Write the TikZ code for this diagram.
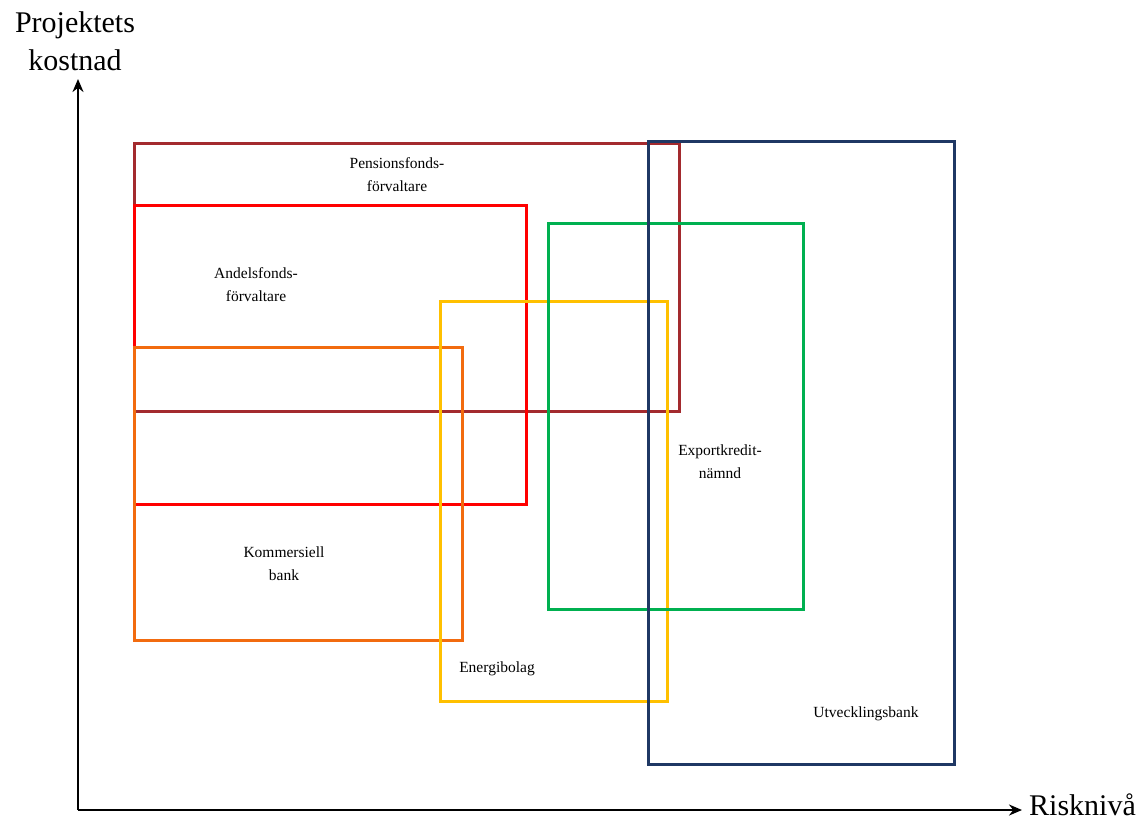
\documentclass[tikz,border=0pt]{standalone}
\usepackage{fontspec}
\setmainfont{Liberation Serif}
\usetikzlibrary{arrows.meta}
\definecolor{cPension}{HTML}{A32A2E}
\definecolor{cAndel}{HTML}{FF0000}
\definecolor{cKomm}{HTML}{F26B0F}
\definecolor{cEnergi}{HTML}{FFC000}
\definecolor{cExport}{HTML}{00B050}
\definecolor{cUtv}{HTML}{1F3864}
\begin{document}
\begin{tikzpicture}[x=1pt,y=-1pt,
  boxline/.style={line width=3pt},
  lbl/.style={font=\fontsize{15.5}{23}\selectfont, align=center, inner sep=0pt},
  axislbl/.style={font=\fontsize{30}{38}\selectfont, align=center, inner sep=0pt},
  axisline/.style={line width=2.8pt, -{Stealth[length=13pt,width=11pt]}}]
\useasboundingbox (0,0) rectangle (1147,820);
% boxes
\draw[boxline, cPension] (134,143) rectangle (679,411);
\draw[boxline, cAndel] (134,205) rectangle (526,504);
\draw[boxline, cKomm] (134,347) rectangle (462,640);
\draw[boxline, cEnergi] (440,301) rectangle (667,701);
\draw[boxline, cExport] (548,223) rectangle (803,609);
\draw[boxline, cUtv] (648,141) rectangle (954,764);
% labels
\node[lbl] (pension) at (397,175) {Pensionsfonds-\\förvaltare};
\node[lbl] (andel) at (256,285) {Andelsfonds-\\förvaltare};
\node[lbl] (komm) at (284,564) {Kommersiell\\bank};
\node[lbl] (energi) at (497,669) {Energibolag};
\node[lbl] (export) at (720,462) {Exportkredit-\\nämnd};
\node[lbl] (utv) at (866,714) {Utvecklingsbank};
% axes
\coordinate (O) at (78,810);
\coordinate (Y) at (78,79);
\coordinate (X) at (1022,810);
\draw[axisline] (O) -- (Y);
\draw[axisline] (O) -- (X);
\node[axislbl] (ylbl) at (75,41) {Projektets\\kostnad};
\node[axislbl, anchor=base west] (xlbl) at (1029,815) {Risknivå};
\end{tikzpicture}
\end{document}
